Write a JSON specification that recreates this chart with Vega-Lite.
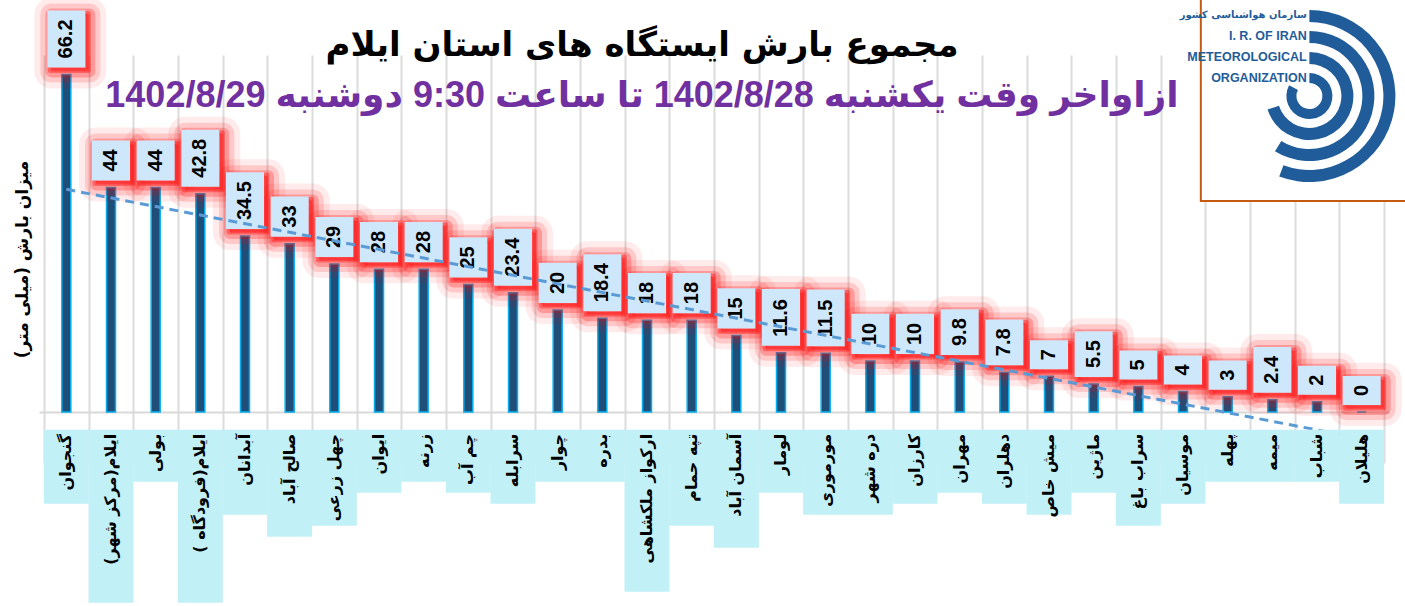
{
  "$schema": "https://vega.github.io/schema/vega-lite/v6.json",
  "width": 1350,
  "height": 408,
  "autosize": {"type": "none"},
  "padding": {"left": 39, "top": 55, "right": 16, "bottom": 143},
  "background": "white",
  "config": {"view": {"stroke": null}, "font": "DejaVu Sans"},
  "title": {
    "text": "مجموع بارش ایستگاه های استان ایلام",
    "subtitle": "ازاواخر وقت یکشنبه 1402/8/28 تا ساعت 9:30 دوشنبه 1402/8/29",
    "anchor": "middle",
    "frame": "group",
    "font": "DejaVu Sans",
    "fontSize": 34,
    "fontWeight": "bold",
    "color": "black",
    "subtitleFont": "Liberation Sans, DejaVu Sans",
    "subtitleFontSize": 36,
    "subtitleFontWeight": "bold",
    "subtitleColor": "#7030a0",
    "subtitlePadding": 16,
    "offset": -127,
    "dx": -72
  },
  "data": {
    "values": [
      {"station": "گنجوان", "value": 66.2},
      {"station": "ایلام(مرکز شهر)", "value": 44},
      {"station": "بولی", "value": 44},
      {"station": "ایلام(فرودگاه )", "value": 42.8},
      {"station": "آبدانان", "value": 34.5},
      {"station": "صالح آباد", "value": 33},
      {"station": "چهل زرعی", "value": 29},
      {"station": "ایوان", "value": 28},
      {"station": "زرنه", "value": 28},
      {"station": "چم آب", "value": 25},
      {"station": "سرابله", "value": 23.4},
      {"station": "چوار", "value": 20},
      {"station": "بدره", "value": 18.4},
      {"station": "ارکواز ملکشاهی", "value": 18},
      {"station": "تپه حمام", "value": 18},
      {"station": "آسمان آباد", "value": 15},
      {"station": "لومار", "value": 11.6},
      {"station": "مورموری", "value": 11.5},
      {"station": "دره شهر", "value": 10},
      {"station": "کارزان", "value": 10},
      {"station": "مهران", "value": 9.8},
      {"station": "دهلران", "value": 7.8},
      {"station": "میش خاص", "value": 7},
      {"station": "ماژین", "value": 5.5},
      {"station": "سراب باغ", "value": 5},
      {"station": "موسیان", "value": 4},
      {"station": "پهله", "value": 3},
      {"station": "میمه", "value": 2.4},
      {"station": "شباب", "value": 2},
      {"station": "هلیلان", "value": 0}
    ]
  },
  "transform": [
    {"window": [{"op": "row_number", "as": "idx"}]},
    {"calculate": "toString(datum.value)", "as": "lbl"},
    {"calculate": "18 + 11.1*length(replace(datum.lbl, '.', '')) + (indexof(datum.lbl, '.') >= 0 ? 5.6 : 0)", "as": "lblpx"},
    {"calculate": "datum.value + (7 + datum.lblpx)/5.1", "as": "boxTop"},
    {"calculate": "-3.5 - (11*length(datum.station) + 8)/5.1", "as": "nameBottom"}
  ],
  "layer": [
    {
      "mark": {"type": "bar", "width": 9, "fill": "#1f4e79", "stroke": "#00b0f0", "strokeWidth": 1.5},
      "encoding": {
        "x": {
          "field": "idx",
          "type": "quantitative",
          "title": null,
          "scale": {"domain": [0.5, 30.5], "nice": false, "zero": false},
          "axis": {
            "values": [0.5, 1.5, 2.5, 3.5, 4.5, 5.5, 6.5, 7.5, 8.5, 9.5, 10.5, 11.5, 12.5, 13.5, 14.5, 15.5, 16.5, 17.5, 18.5, 19.5, 20.5, 21.5, 22.5, 23.5, 24.5, 25.5, 26.5, 27.5, 28.5, 29.5, 30.5],
            "grid": true,
            "gridColor": "#dcdcdc",
            "gridWidth": 2,
            "labels": false,
            "ticks": false,
            "domain": false,
            "title": null
          }
        },
        "y": {
          "field": "value",
          "type": "quantitative",
          "scale": {"domain": [-10, 70], "nice": false, "zero": false},
          "axis": {
            "title": "میزان بارش (میلی متر)",
            "labels": false,
            "ticks": false,
            "domain": false,
            "grid": true,
            "values": [0],
            "gridColor": "#d9d9d9",
            "gridWidth": 2,
            "titleFont": "DejaVu Sans",
            "titleFontSize": 17,
            "titleFontWeight": "bold",
            "titleColor": "black",
            "titlePadding": 8
          }
        },
        "y2": {"datum": 0}
      }
    },
    {
      "mark": {"type": "bar", "width": 38, "xOffset": 4, "yOffset": 4, "y2Offset": -3, "fill": "#ff0000", "fillOpacity": 0.1, "stroke": "#ff0000", "strokeWidth": 34, "strokeOpacity": 0.08, "strokeJoin": "round"},
      "encoding": {
        "x": {"field": "idx", "type": "quantitative", "title": null, "scale": {"domain": [0.5, 30.5], "nice": false, "zero": false}},
        "y": {"field": "boxTop", "type": "quantitative", "scale": {"domain": [-10, 70], "nice": false, "zero": false}},
        "y2": {"field": "value"}
      }
    },
    {
      "mark": {"type": "bar", "width": 38, "xOffset": 4, "yOffset": 4, "y2Offset": -3, "fill": "#ff0000", "fillOpacity": 0.1, "stroke": "#ff0000", "strokeWidth": 22, "strokeOpacity": 0.14, "strokeJoin": "round"},
      "encoding": {
        "x": {"field": "idx", "type": "quantitative", "title": null, "scale": {"domain": [0.5, 30.5], "nice": false, "zero": false}},
        "y": {"field": "boxTop", "type": "quantitative", "scale": {"domain": [-10, 70], "nice": false, "zero": false}},
        "y2": {"field": "value"}
      }
    },
    {
      "mark": {"type": "bar", "width": 38, "xOffset": 4, "yOffset": 4, "y2Offset": -3, "fill": "#ff0000", "fillOpacity": 0.1, "stroke": "#ff0000", "strokeWidth": 12, "strokeOpacity": 0.24, "strokeJoin": "round"},
      "encoding": {
        "x": {"field": "idx", "type": "quantitative", "title": null, "scale": {"domain": [0.5, 30.5], "nice": false, "zero": false}},
        "y": {"field": "boxTop", "type": "quantitative", "scale": {"domain": [-10, 70], "nice": false, "zero": false}},
        "y2": {"field": "value"}
      }
    },
    {
      "mark": {"type": "bar", "width": 38, "xOffset": 3, "yOffset": 3, "y2Offset": -4, "fill": "#ff0000", "fillOpacity": 0.2, "stroke": "#ff0000", "strokeWidth": 5, "strokeOpacity": 0.35, "strokeJoin": "round"},
      "encoding": {
        "x": {"field": "idx", "type": "quantitative", "title": null, "scale": {"domain": [0.5, 30.5], "nice": false, "zero": false}},
        "y": {"field": "boxTop", "type": "quantitative", "scale": {"domain": [-10, 70], "nice": false, "zero": false}},
        "y2": {"field": "value"}
      }
    },
    {
      "mark": {"type": "bar", "width": 38, "y2Offset": -7, "fill": "#cfe7fa"},
      "encoding": {
        "x": {"field": "idx", "type": "quantitative", "title": null, "scale": {"domain": [0.5, 30.5], "nice": false, "zero": false}},
        "y": {"field": "boxTop", "type": "quantitative", "scale": {"domain": [-10, 70], "nice": false, "zero": false}},
        "y2": {"field": "value"}
      }
    },
    {
      "mark": {"type": "text", "angle": 270, "align": "left", "baseline": "middle", "yOffset": -16, "font": "Liberation Sans", "fontWeight": "bold", "fontSize": 20, "fill": "black"},
      "encoding": {
        "x": {"field": "idx", "type": "quantitative", "title": null, "scale": {"domain": [0.5, 30.5], "nice": false, "zero": false}},
        "y": {"field": "value", "type": "quantitative", "scale": {"domain": [-10, 70], "nice": false, "zero": false}},
        "text": {"field": "lbl"}
      }
    },
    {
      "transform": [{"regression": "value", "on": "idx", "method": "linear", "extent": [1, 30]}],
      "mark": {"type": "line", "stroke": "#5b9bd5", "strokeWidth": 3, "strokeDash": [9, 6]},
      "encoding": {
        "x": {"field": "idx", "type": "quantitative", "title": null, "scale": {"domain": [0.5, 30.5], "nice": false, "zero": false}},
        "y": {"field": "value", "type": "quantitative", "scale": {"domain": [-10, 70], "nice": false, "zero": false}}
      }
    },
    {
      "mark": {"type": "bar", "width": 45, "fill": "#c2f0f7"},
      "encoding": {
        "x": {"field": "idx", "type": "quantitative", "title": null, "scale": {"domain": [0.5, 30.5], "nice": false, "zero": false}},
        "y": {"field": "nameBottom", "type": "quantitative", "scale": {"domain": [-10, 70], "nice": false, "zero": false}},
        "y2": {"datum": -3.5}
      }
    },
    {
      "mark": {"type": "text", "angle": 270, "align": "right", "baseline": "middle", "yOffset": 4, "font": "DejaVu Sans", "fontWeight": "bold", "fontSize": 16, "fill": "black"},
      "encoding": {
        "x": {"field": "idx", "type": "quantitative", "title": null, "scale": {"domain": [0.5, 30.5], "nice": false, "zero": false}},
        "y": {"datum": -3.5, "type": "quantitative", "scale": {"domain": [-10, 70], "nice": false, "zero": false}},
        "text": {"field": "station"}
      }
    },
    {
      "data": {"values": [{}]},
      "mark": {"type": "point", "shape": "square", "size": 44100, "filled": true, "fill": "white", "fillOpacity": 1, "stroke": "#c55a11", "strokeWidth": 2, "strokeOpacity": 1},
      "encoding": {
        "x": {"datum": 28.75, "type": "quantitative", "scale": {"domain": [0.5, 30.5], "nice": false, "zero": false}},
        "y": {"datum": 61.96, "type": "quantitative", "scale": {"domain": [-10, 70], "nice": false, "zero": false}}
      }
    },
    {
      "data": {"values": [{}]},
      "mark": {"type": "arc", "radius": 86, "radius2": 74, "theta": 0, "theta2": 3.5, "fill": "#1f5c99"},
      "encoding": {
        "x": {"datum": 28.83, "type": "quantitative", "scale": {"domain": [0.5, 30.5], "nice": false, "zero": false}},
        "y": {"datum": 61.96, "type": "quantitative", "scale": {"domain": [-10, 70], "nice": false, "zero": false}}
      }
    },
    {
      "data": {"values": [{}]},
      "mark": {"type": "arc", "radius": 65, "radius2": 53, "theta": 0, "theta2": 3.7, "fill": "#1f5c99"},
      "encoding": {
        "x": {"datum": 28.83, "type": "quantitative", "scale": {"domain": [0.5, 30.5], "nice": false, "zero": false}},
        "y": {"datum": 61.96, "type": "quantitative", "scale": {"domain": [-10, 70], "nice": false, "zero": false}}
      }
    },
    {
      "data": {"values": [{}]},
      "mark": {"type": "arc", "radius": 44, "radius2": 32, "theta": 0, "theta2": 4.4, "fill": "#1f5c99"},
      "encoding": {
        "x": {"datum": 28.83, "type": "quantitative", "scale": {"domain": [0.5, 30.5], "nice": false, "zero": false}},
        "y": {"datum": 61.96, "type": "quantitative", "scale": {"domain": [-10, 70], "nice": false, "zero": false}}
      }
    },
    {
      "data": {"values": [{}]},
      "mark": {"type": "arc", "radius": 23, "radius2": 13, "theta": 0, "theta2": 5.2, "fill": "#1f5c99"},
      "encoding": {
        "x": {"datum": 28.83, "type": "quantitative", "scale": {"domain": [0.5, 30.5], "nice": false, "zero": false}},
        "y": {"datum": 61.96, "type": "quantitative", "scale": {"domain": [-10, 70], "nice": false, "zero": false}}
      }
    },
    {
      "data": {"values": [{}]},
      "mark": {"type": "text", "align": "right", "baseline": "middle", "font": "DejaVu Sans", "fontWeight": "bold", "fontSize": 10, "fill": "#1f5c99"},
      "encoding": {
        "x": {"datum": 28.77, "type": "quantitative", "scale": {"domain": [0.5, 30.5], "nice": false, "zero": false}},
        "y": {"datum": 77.8, "type": "quantitative", "scale": {"domain": [-10, 70], "nice": false, "zero": false}},
        "text": {"value": "سازمان هواشناسی کشور"}
      }
    },
    {
      "data": {"values": [{}]},
      "mark": {"type": "text", "align": "right", "baseline": "middle", "font": "Liberation Sans Narrow, Liberation Sans", "fontWeight": "bold", "fontSize": 12.5, "fill": "#1f5c99"},
      "encoding": {
        "x": {"datum": 28.77, "type": "quantitative", "scale": {"domain": [0.5, 30.5], "nice": false, "zero": false}},
        "y": {"datum": 73.7, "type": "quantitative", "scale": {"domain": [-10, 70], "nice": false, "zero": false}},
        "text": {"value": "I. R. OF IRAN"}
      }
    },
    {
      "data": {"values": [{}]},
      "mark": {"type": "text", "align": "right", "baseline": "middle", "font": "Liberation Sans Narrow, Liberation Sans", "fontWeight": "bold", "fontSize": 12.5, "fill": "#1f5c99"},
      "encoding": {
        "x": {"datum": 28.77, "type": "quantitative", "scale": {"domain": [0.5, 30.5], "nice": false, "zero": false}},
        "y": {"datum": 69.6, "type": "quantitative", "scale": {"domain": [-10, 70], "nice": false, "zero": false}},
        "text": {"value": "METEOROLOGICAL"}
      }
    },
    {
      "data": {"values": [{}]},
      "mark": {"type": "text", "align": "right", "baseline": "middle", "font": "Liberation Sans Narrow, Liberation Sans", "fontWeight": "bold", "fontSize": 12.5, "fill": "#1f5c99"},
      "encoding": {
        "x": {"datum": 28.77, "type": "quantitative", "scale": {"domain": [0.5, 30.5], "nice": false, "zero": false}},
        "y": {"datum": 65.5, "type": "quantitative", "scale": {"domain": [-10, 70], "nice": false, "zero": false}},
        "text": {"value": "ORGANIZATION"}
      }
    }
  ]
}
